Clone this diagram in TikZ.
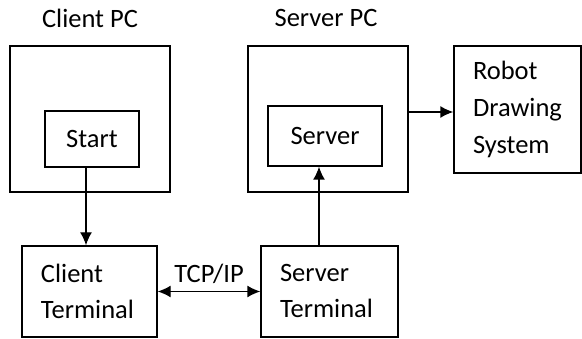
\documentclass[tikz,border=0pt]{standalone}
\usepackage{fontspec}
\setmainfont{Carlito}
\usetikzlibrary{arrows, arrows.meta, positioning, quotes}

\begin{document}
\begin{tikzpicture}[x=1pt, y=-1pt]

\tikzset{box/.style = {shape=rectangle, draw, line width=1.4pt, inner sep=0pt}}
\tikzset{txtbox/.style = {box, align=left, inner xsep=19pt, font=\fontsize{26.5}{37}\selectfont}}
\tikzset{every path/.style = {line width=1.4pt, > = {Latex[length=13pt, width=12pt]}}}
\useasboundingbox (0,0) rectangle (582,339);

% labels
\node[font=\fontsize{26.5}{30}\selectfont] (clientlbl) at (90,18) {Client PC};
\node[font=\fontsize{26.5}{30}\selectfont] (serverlbl) at (326,18) {Server PC};

% boxes
\node[box, minimum width=160pt, minimum height=146pt] (clientpc) at (90,119) {};
\node[box, minimum width=94pt, minimum height=56pt, font=\fontsize{26.5}{30}\selectfont] (start) at (92,139) {Start};
\node[box, minimum width=160pt, minimum height=146pt] (serverpc) at (328,119) {};
\node[box, minimum width=114pt, minimum height=60pt, font=\fontsize{26.5}{30}\selectfont] (server) at (325,136) {Server};
\node[txtbox, text width=89pt, minimum height=127pt] (robot) at (517.5,109.5) {Robot\\Drawing\\System};
\node[txtbox, text width=97pt, minimum height=91pt, font=\fontsize{26.5}{36}\selectfont] (cterm) at (89.5,291.5) {Client\\Terminal};
\node[txtbox, text width=99pt, minimum height=91pt, font=\fontsize{26.5}{36}\selectfont] (sterm) at (329.5,291.5) {Server\\Terminal};

% arrows
\draw[->] ([xshift=-6pt]start.south) -- ([xshift=-6pt]start.south |- cterm.north);
\draw[->] ([xshift=-6pt]server.south |- sterm.north) -- ([xshift=-6pt]server.south);
\draw[->] ([yshift=7pt]serverpc.east) -- ([yshift=7pt]serverpc.east -| robot.west);
\path (cterm) edge[<->] node[above=4pt, font=\fontsize{26.5}{30}\selectfont] {TCP/IP} (sterm);

\end{tikzpicture}
\end{document}
